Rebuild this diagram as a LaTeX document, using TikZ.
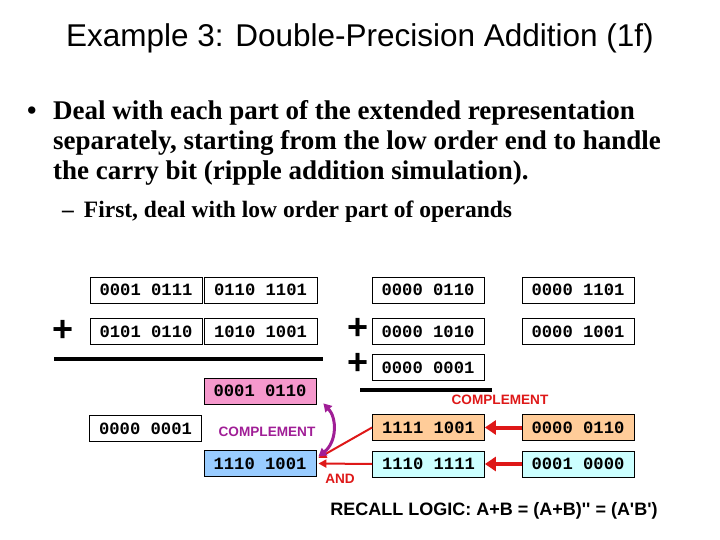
\documentclass[tikz,border=0pt]{standalone}
\usepackage{fontspec}
\setmainfont{Liberation Serif}
\newfontfamily\arialf{Liberation Sans}
\newfontfamily\monof{Liberation Mono}
\usetikzlibrary{arrows.meta,calc}
\definecolor{pinkbox}{RGB}{245,152,204}
\definecolor{bluebox}{RGB}{153,204,255}
\definecolor{orangebox}{RGB}{255,204,153}
\definecolor{cyanbox}{RGB}{204,255,255}
\definecolor{arrred}{RGB}{222,24,24}
\definecolor{purp}{RGB}{160,30,150}
\tikzset{
  numbox/.style={draw=black,line width=0.8pt,minimum width=112pt,minimum height=26pt,inner sep=0pt,
     font=\monof\bfseries\fontsize{17.2}{17.2}\selectfont},
  plussign/.style={font=\arialf\bfseries\fontsize{36}{36}\selectfont,inner sep=0pt},
  rule/.style={line width=4pt},
  redlabel/.style={text=arrred,font=\arialf\bfseries\fontsize{13.6}{13.6}\selectfont,inner sep=0pt},
  thickred/.style={draw=arrred,line width=4pt,-{Triangle[width=14pt,length=11pt]}},
  thinred/.style={draw=arrred,line width=2pt,-{Triangle[width=8pt,length=8pt]}},
  purparrow/.style={draw=purp,line width=3pt,{Triangle[width=9pt,length=8pt]}-{Triangle[width=9pt,length=8pt]}},
  bodytext/.style={anchor=west,inner sep=0pt,font=\bfseries\fontsize{27}{27}\selectfont},
}
\begin{document}
\begin{tikzpicture}[x=1pt,y=-1pt]
\useasboundingbox (0,0) rectangle (720,540);
% title and text
\node[inner sep=0pt,font=\arialf\fontsize{31.5}{31.5}\selectfont] (title) at (360,38) {Example 3: Double-Precision Addition (1f)};
\node[bodytext] (bul) at (27,113) {\textbullet};
\node[bodytext] (l1) at (53,113) {Deal with each part of the extended representation};
\node[bodytext] (l2) at (53,143) {separately, starting from the low order end to handle};
\node[bodytext] (l3) at (53,173) {the carry bit (ripple addition simulation).};
\node[bodytext,font=\bfseries\fontsize{23.5}{23.5}\selectfont] (sub) at (62,212) {--\hspace{10pt}First, deal with low order part of operands};
% left addition
\node[numbox] (a1) at (146,290) {0001 0111};
\node[numbox,minimum width=113pt] (a2) at (260.5,290) {0110 1101};
\node[numbox] (b1) at (146,331.5) {0101 0110};
\node[numbox,minimum width=113pt] (b2) at (260.5,331.5) {1010 1001};
\node[plussign] (p1) at (63,331) {+};
\coordinate (r1s) at (54,359);
\coordinate (r1e) at (323,359);
\draw[rule] (r1s) -- (r1e);
\node[numbox,fill=pinkbox] (r) at (260,391) {0001 0110};
\node[numbox] (c) at (145.5,428.5) {0000 0001};
\node[numbox,fill=bluebox] (d) at (260,463.5) {1110 1001};
% right addition
\node[numbox] (e) at (428,290) {0000 0110};
\node[numbox] (f) at (578,290) {0000 1101};
\node[numbox] (g) at (428,331.5) {0000 1010};
\node[numbox] (h) at (578,331.5) {0000 1001};
\node[numbox] (i) at (428,367.5) {0000 0001};
\node[plussign] (p2) at (358,329) {+};
\node[plussign] (p3) at (358,364) {+};
\coordinate (r2s) at (360,390);
\coordinate (r2e) at (492,390);
\draw[rule] (r2s) -- (r2e);
\node[redlabel] (comp1) at (500,400) {COMPLEMENT};
\node[numbox,fill=orangebox] (j) at (428.5,427.5) {1111 1001};
\node[numbox,fill=orangebox] (k) at (578,427.5) {0000 0110};
\node[numbox,fill=cyanbox] (l) at (428.5,464) {1110 1111};
\node[numbox,fill=cyanbox] (m) at (578,464) {0001 0000};
\node[redlabel,text=purp] (comp2) at (267,432) {COMPLEMENT};
\node[redlabel] (and) at (340,479) {AND};
\node[inner sep=0pt,font=\arialf\bfseries\fontsize{18}{18}\selectfont] (recall) at (494,511) {RECALL LOGIC: A+B = (A+B)'' = (A'B')};
% connectors
\draw[thickred] (k.west) -- (j.east);
\draw[thickred] (m.west) -- (l.east);
\draw[thinred] (j.west) -- ($(d.east)+(2,-5.5)$);
\draw[thinred] (l.west) -- ($(d.east)+(2,0)$);
\draw[purparrow] ($(r.south east)+(7,-1)$) .. controls (337,418) and (337,442) .. ($(d.east)+(2,-7)$);
\end{tikzpicture}
\end{document}
